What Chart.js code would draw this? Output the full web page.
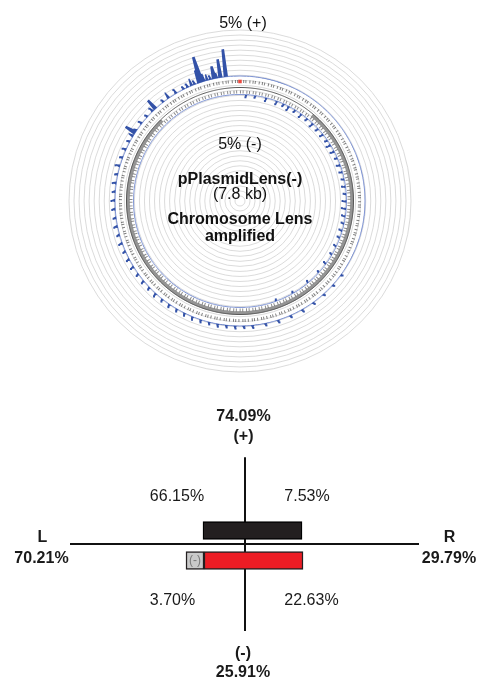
<!DOCTYPE html>
<html><head><meta charset="utf-8">
<script src="https://cdn.jsdelivr.net/npm/chart.js@4/dist/chart.umd.min.js"></script>
<style>
html,body{margin:0;padding:0;background:#fff;}
#wrap{position:relative;width:478px;height:679px;overflow:hidden;}
#top{position:absolute;left:0;top:0;width:478px;height:380px;}
#bot{position:absolute;left:0;top:380px;width:478px;height:299px;}
</style></head><body>
<div id="wrap"><div id="top"><canvas id="c1"></canvas></div><div id="bot"><canvas id="c2"></canvas></div></div>
<script>
// ---------------- DATA ----------------
// read coverage bars: [angle in degrees clockwise from the top, percent]
const plusBars = [
  [353.2,3.15],[350.5,2.1],[349.0,0.6],[347.5,1.45],[346.0,0.4],[344.5,0.7],[343.0,0.9],
  [341.6,3.0],[340.4,1.5],[338.5,0.4],[337.0,0.85],[335,0.4],[333,0.3],[329.1,0.5],
  [325,0.8],[322,0.3],[316.8,1.3],[315.3,0.5],[312,0.3],[308,0.4],[304,0.3],[302.5,1.3],
  [301,0.6],[298,0.3],[294,0.4],[290,0.3],[286,0.5],[282,0.3],[278,0.4],[274,0.3],
  [270,0.4],[266,0.35],[262,0.3],[258,0.4],[254,0.3],[250,0.4],[246,0.3],[242,0.35],
  [238,0.4],[234,0.3],[230,0.35],[226,0.3],[222,0.4],[218,0.3],[214,0.35],[210,0.3],
  [206,0.3],[202,0.35],[198,0.3],[194,0.25],[190,0.3],[186,0.25],[182,0.3],[178,0.25],
  [174,0.3],[168,0.25],[162,0.3],[156,0.25],[150,0.3],[144,0.25],[138,0.2],[132,0.2],[126,0.2]
];
const minusBars = [
  [3,0.3],[8,0.25],[14,0.4],[20,0.4],[24,0.3],[27,0.5],[31,0.3],[35,0.45],[39,0.3],
  [43,0.5],[47,0.35],[51,0.4],[55,0.3],[58,0.5],[62,0.45],[66,0.3],[70,0.4],[74,0.35],
  [78,0.3],[82,0.4],[86,0.3],[90,0.45],[94,0.5],[98,0.4],[102,0.3],[106,0.35],[110,0.3],
  [115,0.3],[120,0.25],[126,0.3],[132,0.2],[140,0.25],[150,0.2],[160,0.2]
];
const scaleMaxPct = 5;                 // "5% (+)" / "5% (-)"
const annotationArc = [40, 316];       // gray annotation arc, degrees clockwise from top
const originAngle = 0;                 // red origin marker
const centerTitle = ['pPlasmidLens(-)', '(7.8 kb)', 'Chromosome Lens', 'amplified'];

const quadrantLabels = ['66.15%', '7.53%', '3.70%', '22.63%']; // +L, +R, -L, -R
const strandTotals = {plus: '74.09%', minus: '25.91%', left: '70.21%', right: '29.79%'};
const plusBar = [-41.5, 57.5];
const minusBar = [-40.5, 58.5];
const minusLeftBox = [-58.5, -40.5];

// ---------------- TOP: circular plot ----------------
const BIN_DEG = 0.5;
const N = 360 / BIN_DEG;
const binLabels = Array.from({length: N}, (_, i) => (i * BIN_DEG) + '°');
const binAngle = i => i * BIN_DEG;
const RMAX_UNITS = 34, RADIUS_PX = 171;
const u = px => px * RMAX_UNITS / RADIUS_PX;     // pixel radius -> scale units
const PCT_PX = 8.8;                               // pixels per percent
const PLUS_BASE = u(125), MINUS_BASE = u(106.5);

function binned(bars) {           // place each read bar into its 0.5-degree bins
  const out = new Array(N).fill(0);
  const start = new Array(N).fill(false);
  bars.forEach(([a, p]) => {
    const i = Math.round(a / BIN_DEG) % N;
    const span = p >= 1 ? 3 : 2;
    for (let k = 0; k < span; k++) out[(i + k) % N] = Math.max(out[(i + k) % N], p);
    start[i] = true;
  });
  return {vals: out, start};
}
const plusBinned = binned(plusBars), minusBinned = binned(minusBars);
const ring = v => binLabels.map(() => v);

const FONT = '"Liberation Sans", Arial, Helvetica, sans-serif';
const BLUE = '#3352a8';

const topText = {
  id: 'topText',
  afterDraw(chart) {
    const s = chart.scales.r, ctx = chart.ctx;
    ctx.save();
    ctx.textAlign = 'center';
    ctx.textBaseline = 'alphabetic';
    ctx.fillStyle = '#111';
    const at = (txt, dy, bold, dx) => {
      ctx.font = (bold ? 'bold ' : '') + '16px ' + FONT;
      ctx.fillText(txt, s.xCenter + (dx || 0), s.yCenter + dy);
    };
    at(scaleMaxPct + '% (+)', -173, false, 3);
    at(scaleMaxPct + '% (-)', -52.5, false, 0);
    at(centerTitle[0], -17.5, true);
    at(centerTitle[1], -2.5, false);
    at(centerTitle[2], 23, true);
    at(centerTitle[3], 40, true);
    ctx.restore();
  }
};

new Chart(document.getElementById('c1'), {
  type: 'radar',
  data: {
    labels: binLabels,
    datasets: [
      { label: 'origin', data: binLabels.map((_, i) => binAngle(i) === originAngle ? u(119.5) : null),
        pointStyle: 'rect', pointRadius: 2.5, pointBackgroundColor: '#ec4a3f', pointBorderWidth: 0,
        showLine: false, fill: false },
      { label: '+ strand', data: plusBinned.vals.map(v => PLUS_BASE + u(v * PCT_PX)),
        fill: { value: PLUS_BASE }, backgroundColor: BLUE, borderWidth: 0,
        pointStyle: 'rect', pointBackgroundColor: BLUE, pointBorderWidth: 0,
        pointRadius: c => plusBinned.start[c.dataIndex] && plusBinned.vals[c.dataIndex] < 0.6 ? 1.4 : 0 },
      { label: '- strand', data: minusBinned.vals.map(v => MINUS_BASE - u(v * PCT_PX)),
        fill: { value: MINUS_BASE }, backgroundColor: BLUE, borderWidth: 0,
        pointStyle: 'rect', pointBackgroundColor: BLUE, pointBorderWidth: 0,
        pointRadius: c => minusBinned.start[c.dataIndex] ? 1.4 : 0 },
      { label: '+ base', data: ring(PLUS_BASE), borderColor: '#7e94d6', borderWidth: 1, pointRadius: 0, fill: false },
      { label: '- base', data: ring(MINUS_BASE), borderColor: '#7e94d6', borderWidth: 1, pointRadius: 0, fill: false },
      { label: 'labels out', data: ring(u(119.5)), borderColor: 'rgba(25,25,25,0.55)', borderWidth: 3,
        borderDash: [1, 2.2, 1, 1.2, 1, 3], pointRadius: 0, fill: false },
      { label: 'labels in', data: ring(u(109)), borderColor: 'rgba(25,25,25,0.5)', borderWidth: 3,
        borderDash: [1, 1.6, 1, 2.8], pointRadius: 0, fill: false },
      { label: 'axis', data: ring(u(113.5)), borderColor: '#555', borderWidth: 1, pointRadius: 0, fill: false },
      { label: 'annotation', data: binLabels.map((_, i) => (binAngle(i) >= annotationArc[0] && binAngle(i) <= annotationArc[1]) ? u(112) : null),
        borderColor: '#949494', borderWidth: 3.4, pointRadius: 0, fill: false, spanGaps: false }
    ]
  },
  options: {
    responsive: true, maintainAspectRatio: false, animation: false, devicePixelRatio: 1,
    layout: { padding: { left: 69, right: 67, top: 30, bottom: 8 } },
    plugins: { legend: { display: false }, tooltip: { enabled: false }, title: { display: false } },
    elements: { line: { tension: 0 } },
    scales: {
      r: {
        min: 0, max: RMAX_UNITS,
        ticks: { display: false, stepSize: 1 },
        grid: { circular: true, color: '#d2d2d2', lineWidth: 0.8 },
        angleLines: { display: false },
        pointLabels: { display: false }
      }
    }
  },
  plugins: [topText]
});

// ---------------- BOTTOM: quadrant diagram ----------------
const labelLayout = [
  // [text, x, y, bold]
  [strandTotals.plus, -1, 122.8, true],
  ['(+)', -1, 103.5, true],
  [quadrantLabels[0], -67.5, 42.8, false],
  [quadrantLabels[1], 62.5, 42.8, false],
  [quadrantLabels[2], -72, -60.5, false],
  [quadrantLabels[3], 67, -60.5, false],
  ['L', -202, 1.8, true],
  [strandTotals.left, -203, -18.8, true],
  ['R', 205, 1.8, true],
  [strandTotals.right, 204.5, -18.8, true],
  ['(-)', -1.5, -113.8, true],
  [strandTotals.minus, -1.5, -133.2, true]
];

const botText = {
  id: 'botText',
  afterDraw(chart) {
    const x = chart.scales.x, y = chart.scales.y, ctx = chart.ctx;
    ctx.save();
    ctx.textAlign = 'center';
    ctx.textBaseline = 'alphabetic';
    labelLayout.forEach(([t, vx, vy, b]) => {
      ctx.font = (b ? 'bold ' : '') + '16px ' + FONT;
      ctx.fillStyle = '#1a1a1a';
      ctx.fillText(t, x.getPixelForValue(vx), y.getPixelForValue(vy));
    });
    ctx.font = '12px ' + FONT;
    ctx.fillStyle = '#7a7a7a';
    ctx.textBaseline = 'middle';
    ctx.fillText('(-)', x.getPixelForValue((minusLeftBox[0] + minusLeftBox[1]) / 2), y.getPixelForValue(-16.5));
    ctx.restore();
  }
};

const onlyZero = s => { s.ticks = [{ value: 0 }]; };

new Chart(document.getElementById('c2'), {
  type: 'bar',
  data: {
    datasets: [
      { label: '+', data: [{ x: plusBar, y: 13.5 }], backgroundColor: '#231f20', borderColor: '#000', borderWidth: 1.5 },
      { label: '-', data: [{ x: minusBar, y: -16.5 }], backgroundColor: '#ed1c24', borderColor: '#231f20', borderWidth: 1.5 },
      { label: '-L', data: [{ x: minusLeftBox, y: -16.5 }], backgroundColor: '#c9c9c9', borderColor: '#231f20', borderWidth: 1.5 }
    ]
  },
  options: {
    indexAxis: 'y',
    responsive: true, maintainAspectRatio: false, animation: false, devicePixelRatio: 1,
    layout: { padding: { left: 70, right: 59, top: 77.3, bottom: 48.3 } },
    datasets: { bar: { barThickness: 18, grouped: false, borderSkipped: false } },
    plugins: { legend: { display: false }, tooltip: { enabled: false } },
    scales: {
      x: { type: 'linear', min: -174.5, max: 174.5, offset: false,
           afterBuildTicks: onlyZero,
           ticks: { display: false },
           grid: { drawTicks: false, offset: false, color: '#111', lineWidth: 2 },
           border: { display: false } },
      y: { type: 'linear', min: -86.7, max: 86.7, offset: false,
           afterBuildTicks: onlyZero,
           ticks: { display: false },
           grid: { drawTicks: false, offset: false, color: '#111', lineWidth: 2 },
           border: { display: false } }
    }
  },
  plugins: [botText]
});
</script>
</body></html>
